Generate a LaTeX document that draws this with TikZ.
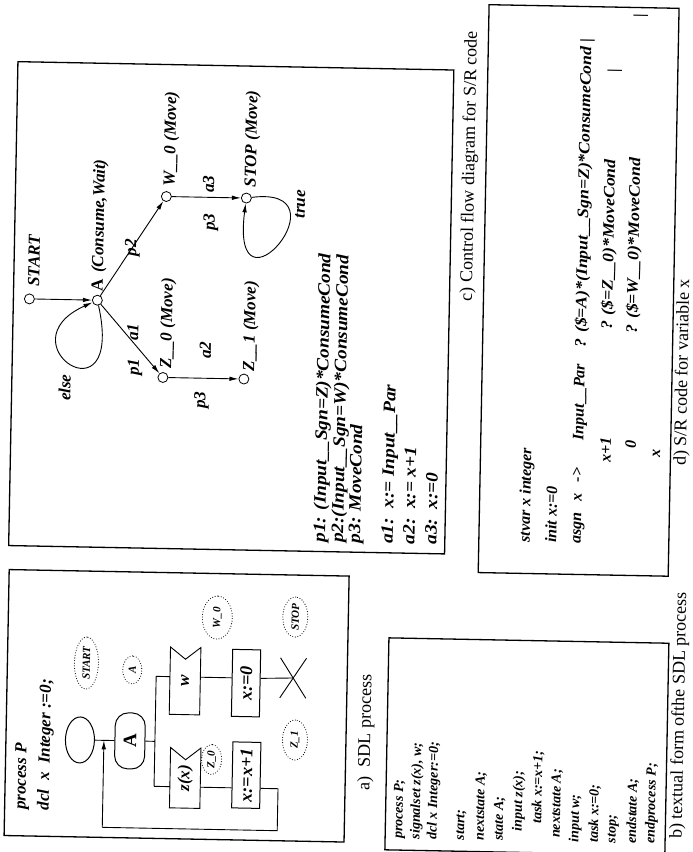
\documentclass[tikz,border=0pt]{standalone}
\usepackage{fontspec}
\setmainfont{Liberation Serif}
\newfontfamily\wideserif[FakeStretch=1.1]{Liberation Serif}
\usetikzlibrary{arrows.meta,shapes.geometric,calc}
\begin{document}
\begin{tikzpicture}[x=1pt,y=-1pt,
  every node/.append style={transform shape},
  frame/.style={draw,line width=1.3pt},
  ln/.style={line width=0.9pt},
  arr/.style={ln,-{Latex[length=9pt,width=4.5pt]}},
  st/.style={circle,draw,line width=0.8pt,minimum size=10pt,inner sep=0pt},
  lab/.style={rotate=90,inner sep=0pt,font=\fontsize{17}{17}\selectfont\bfseries\itshape},
  labw/.style={lab,anchor=west},
  leg/.style={labw,font=\fontsize{17.5}{17.5}\wideserif\bfseries\itshape},
  code/.style={labw,font=\fontsize{14}{14}\selectfont\bfseries\itshape},
  dcode/.style={labw,font=\fontsize{16}{16}\selectfont\bfseries\itshape},
  dcodeq/.style={labw,font=\fontsize{16}{16}\wideserif\bfseries\itshape},
  captxt/.style={rotate=90,inner sep=0pt,font=\fontsize{18}{18}\selectfont},
  dotlab/.style={rotate=90,ellipse,draw,line width=1.1pt,line cap=round,dash pattern=on 0pt off 2.6pt,inner sep=0pt,font=\fontsize{11}{11}\selectfont\bfseries\itshape},
  sdl/.style={rotate=90,draw,line width=1pt,inner sep=0pt,font=\fontsize{18}{18}\selectfont\bfseries\itshape},
  inp/.style={rotate=90,inner sep=0pt,font=\fontsize{17}{17}\selectfont\bfseries\itshape},
]
\useasboundingbox (0,0) rectangle (693,852);
\fill[white] (0,0) rectangle (693,852);
\begin{scope}[rotate around={-1.1:(346,426)}]
% ---------------- frames
\draw[frame] (11,68) rectangle (447,552);
\draw[frame] (12,576) rectangle (352,842);
\draw[frame] (393,637) rectangle (673,849);
\draw[frame] (481,2) rectangle (671,570);

% ---------------- c) control flow diagram
\node[st] (cS) at (27,305) {};
\node[st] (cA) at (95,305) {};
\node[st] (cW) at (162,200) {};
\node[st] (cZ) at (162,381) {};
\node[st] (cT) at (242,200) {};
\node[st] (cZ1) at (243,381) {};

\node[labw] (lS) at (31,293) {START};
\node[labw] (lA) at (96,296) {\upshape A\hspace{6pt}\itshape(Consume,Wait)};
\node[labw] (lW) at (166,190) {W\_\_0 (Move)};
\node[labw] (lZ) at (166,372) {Z\_\_0 (Move)};
\node[labw] (lT) at (247,189) {STOP (Move)};
\node[labw] (lZ1) at (249,373) {Z\_\_1 (Move)};

\draw[arr] (cS) -- (cA);
\draw[arr] (cA) -- (cZ);
\draw[arr] (cA) -- (cW);
\draw[arr] (cW) -- (cT);
\draw[arr] (cZ) -- (cZ1);
\draw[arr] (cA) .. controls (125,430) and (0,350) .. (cA);
\draw[arr] (cT) .. controls (345,185) and (228,330) .. (cT);

\node[lab] (eelse) at (64,393) {else};
\node[lab] (ep1) at (134,371) {p1};
\node[lab] (ea1) at (131,336) {a1};
\node[lab] (ep2) at (129,252) {p2};
\node[lab] (ea3) at (204,187) {a3};
\node[lab] (ep3a) at (207,225) {p3};
\node[lab] (ea2) at (204,353) {a2};
\node[lab] (ep3b) at (201,403) {p3};
\node[lab] (etrue) at (296,205) {true};

\node[leg] (g1) at (323,543) {p1: (Input\_\_Sgn=Z)*ConsumeCond};
\node[leg] (g2) at (341,543) {p2:(Input\_\_Sgn=W)*ConsumeCond};
\node[leg] (g3) at (358,543) {p3: MoveCond};
\node[leg] (g4) at (391,543) {a1:\ \ x:= Input\_\_Par};
\node[leg] (g5) at (411,543) {a2:\ \ x:= x+1};
\node[leg] (g6) at (433,543) {a3:\ \ x:=0};

\node[captxt] (capc) at (465,164) {c) Control flow diagram for S/R code};

% ---------------- a) SDL process
\node[labw] (pp) at (29,816) {process P};
\node[labw] (dcl) at (52,816) {dcl\ \ x\ \ Integer :=0;};

\node[sdl,ellipse,minimum width=46pt,minimum height=29pt] (sStart) at (86,745) {};
\node[sdl,rounded corners=13pt,minimum width=56pt,minimum height=30pt,font=\fontsize{19}{19}\selectfont\bfseries] (sA) at (136,745) {A};
\coordinate (jt) at (161,680);
\coordinate (jb) at (161,790);
\coordinate (jm) at (161,745);
\node[inp,minimum width=67pt,minimum height=30pt] (inW) at (190,684) {w};
\node[inp,minimum width=60pt,minimum height=30pt] (inZ) at (192,781) {z(x)};
\draw[ln] (inW.north west) -- (inW.north east) -- ($(inW.east)!12pt!(inW.west)$) -- (inW.south east) -- (inW.south west) -- cycle;
\draw[ln] (inZ.north west) -- (inZ.north east) -- ($(inZ.east)!12pt!(inZ.west)$) -- (inZ.south east) -- (inZ.south west) -- cycle;
\node[sdl,minimum width=67pt,minimum height=28pt] (tk0) at (251,685) {x:=0};
\node[sdl,minimum width=66pt,minimum height=28pt] (tk1) at (253,777) {x:=x+1};
\coordinate (sx) at (298,679);
\coordinate (lp1) at (285,790);
\coordinate (lp2) at (285,832);
\coordinate (lp3) at (110,832);

\draw[ln] (sStart) -- (sA);
\draw[ln] (sA) -- (jm);
\draw[ln] (jt) -- (jb);
\draw[ln] (jt) -- (jt -| inW.north);
\draw[ln] (jt -| inW.south) -- (jt -| tk0.north);
\draw[ln] (jt -| tk0.south) -- (sx);
\draw[ln] (285,659) -- (311,699);
\draw[ln] (285,699) -- (311,659);
\draw[ln] (jb) -- (jb -| inZ.north);
\draw[ln] (jb -| inZ.south) -- (jb -| tk1.north);
\draw[ln] (jb -| tk1.south) -- (lp1) -- (lp2) -- (lp3);
\draw[arr] (lp3) -- (lp3 |- jm);

\node[dotlab,minimum width=52pt,minimum height=24pt] (dS) at (91,668) {START};
\node[dotlab,minimum width=28pt,minimum height=19pt] (dA) at (137,674) {A};
\node[dotlab,minimum width=43pt,minimum height=30pt] (dW) at (221,620) {W\_0};
\node[dotlab,minimum width=30pt,minimum height=20pt] (dZ) at (218,762) {Z\_0};
\node[dotlab,minimum width=40pt,minimum height=25pt] (dZ1) at (301,741) {Z\_1};
\node[dotlab,minimum width=40pt,minimum height=25pt] (dT) at (299,618) {STOP};

\node[captxt] (capa) at (372,732) {a)\ \ SDL process};

% ---------------- b) textual form
\node[code] (b1) at (407,838) {process P;};
\node[code] (b2) at (424,838) {signalset z(x), w;};
\node[code] (b3) at (441,838) {dcl x Integer:=0;};
\node[code] (b4) at (469,838) {start;};
\node[code] (b5) at (488,838) {nextstate A;};
\node[code] (b6) at (507,838) {state A;};
\node[code] (b7) at (526,828) {input z(x);};
\node[code] (b8) at (545,820) {task x:=x+1;};
\node[code] (b9) at (564,834) {nextstate A;};
\node[code] (b10) at (583,838) {input w;};
\node[code] (b11) at (602,838) {task x:=0;};
\node[code] (b12) at (621,838) {stop;};
\node[code] (b13) at (640,838) {endstate A;};
\node[code] (b14) at (659,838) {endprocess P;};

\node[captxt] (capb) at (685,709) {b) textual form ofthe SDL process};

% ---------------- d) S/R code
\node[dcode] (d1) at (528,539) {stvar x integer};
\node[dcode] (d2) at (553,539) {init x:=0};
\node[dcode] (d3) at (580,539) {asgn\hspace{11pt}x\hspace{11pt}->};
\node[dcode] (d3a) at (580,436) {Input\_\_Par};
\node[dcodeq] (d3b) at (580,343) {? (\$=A)*(Input\_\_Sgn=Z)*ConsumeCond |};
\node[dcode] (d4) at (606,458) {x+1};
\node[dcodeq] (d4b) at (606,325) {? (\$=Z\_\_0)*MoveCond};
\node[dcode] (d4c) at (608,68) {|};
\node[dcode] (d5) at (631,443) {0};
\node[dcodeq] (d5b) at (631,328) {? (\$=W\_\_0)*MoveCond};
\node[dcode] (d5c) at (633,12) {|};
\node[dcode] (d6) at (657,452) {x};

\node[captxt] (capd) at (682,366) {d) S/R code for variable x};
\end{scope}
\end{tikzpicture}
\end{document}
